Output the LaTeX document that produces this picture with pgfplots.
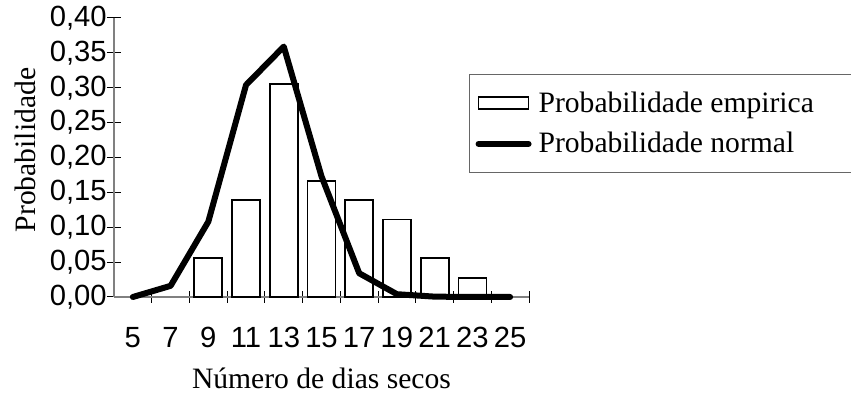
\documentclass[border=0pt]{standalone}
\usepackage{fontspec}
\setmainfont{Liberation Serif}
\newfontfamily\arial{Liberation Sans}
\usepackage{pgfplots}
\pgfplotsset{compat=1.18}
\begin{document}
\begin{tikzpicture}
\useasboundingbox (-57pt,-48.5pt) rectangle (368.5pt,148.5pt);
\begin{axis}[
  at={(0,0)}, anchor=south west,
  scale only axis,
  width=207.5pt, height=139.5pt,
  xmin=-0.5, xmax=10.5,
  ymin=0, ymax=0.40,
  axis lines=left,
  axis line style={-, draw=black!50, line width=0.6pt},
  xtick={0,...,10},
  xticklabels={5,7,9,11,13,15,17,19,21,23,25},
  minor xtick={0.5,1.5,...,10.5},
  major x tick style={draw=none},
  minor x tick style={draw=black, line width=0.5pt},
  minor tick length=6pt,
  tick align=center,
  ytick={0,0.05,...,0.40},
  y tick style={draw=black, line width=0.5pt},
  major tick length=7pt,
  yticklabel style={font=\arial\fontsize{14.6}{14.6}\selectfont, inner xsep=0pt,
    /pgf/number format/.cd, fixed, fixed zerofill, precision=2, use comma, assume math mode=true},
  xticklabel style={font=\arial\fontsize{14.6}{14.6}\selectfont, inner xsep=0pt, yshift=-8pt, text height=10.4pt, text depth=0pt},
  xlabel={Número de dias secos},
  ylabel={Probabilidade},
  every axis x label/.style={at={(axis description cs:0.5,-0.290)}, anchor=center, font=\fontsize{14.8}{14.8}\selectfont},
  every axis y label/.style={at={(axis description cs:-0.2145,0.527)}, anchor=center, rotate=90, font=\fontsize{14.8}{14.8}\selectfont},
  legend style={at={(axis description cs:0.8554,0.7993)}, anchor=north west,
    draw=black!60, line width=0.6pt, font=\fontsize{14.8}{14.8}\selectfont,
    inner xsep=3pt, inner ysep=6.5pt, row sep=4.5pt, column sep=1.5pt},
  legend cell align=left,
  clip=false,
]
\addplot[ybar, bar width=14pt, draw=black, line width=0.9pt, fill=white,
  legend image code/.code={\draw[line width=0.9pt, fill=white] (0pt,-3pt) rectangle (25pt,3pt);}]
  coordinates {(2,0.0556) (3,0.1389) (4,0.3056) (5,0.1667) (6,0.1389) (7,0.1111) (8,0.0556) (9,0.0278)};
\addlegendentry{\makebox[158pt][l]{Probabilidade empirica}}
\addplot[black, line width=3pt, line join=round, line cap=round, mark=none,
  legend image code/.code={\draw[line width=3pt, line cap=round] (0pt,0pt) -- (25pt,0pt);}]
  coordinates {(0,0.0) (1,0.016) (2,0.108) (3,0.304) (4,0.359) (5,0.173) (6,0.034) (7,0.004) (8,0.0005) (9,0.0) (10,0.0)};
\addlegendentry{Probabilidade normal}
\end{axis}
\end{tikzpicture}
\end{document}
